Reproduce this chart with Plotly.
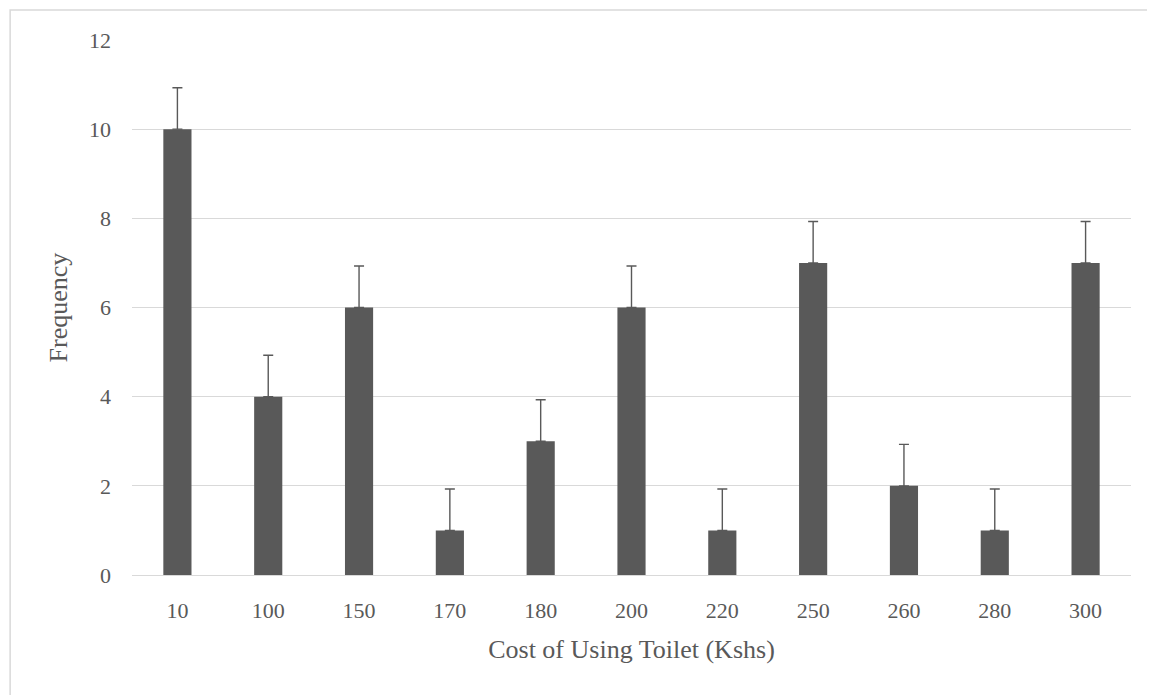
import plotly.graph_objects as go

categories = ["10", "100", "150", "170", "180", "200", "220", "250", "260", "280", "300"]
frequency = [10, 4, 6, 1, 3, 6, 1, 7, 2, 1, 7]
error_plus = [0.93] * 11
y_ticks = [0, 2, 4, 6, 8, 10, 12]

font_family = "Liberation Serif"
text_color = "#595959"

fig = go.Figure(
    go.Bar(
        x=categories,
        y=frequency,
        marker=dict(color="#595959", line=dict(width=0)),
        error_y=dict(type="data", symmetric=False, array=error_plus, arrayminus=[0] * 11,
                     color="#595959", thickness=1.4, width=5),
        width=0.31,
    )
)

fig.update_layout(
    width=1147,
    height=687,
    paper_bgcolor="white",
    plot_bgcolor="white",
    margin=dict(l=124, r=24, t=32, b=120),
    showlegend=False,
    font=dict(family=font_family, color=text_color, size=22),
    shapes=[dict(type="rect", xref="paper", yref="paper",
                 x0=-0.122, x1=1.021, y0=-0.35, y1=1.056,
                 line=dict(color="#d9d9d9", width=1.5))],
)
fig.update_xaxes(
    type="category",
    showgrid=False,
    showline=True,
    linecolor="#d9d9d9",
    linewidth=1.3,
    ticks="",
    ticklabelstandoff=15,
    tickfont=dict(size=22, color=text_color),
    title=dict(text="Cost of Using Toilet (Kshs)", font=dict(size=26, color=text_color), standoff=18),
)
fig.update_yaxes(
    range=[0, 12],
    tickvals=y_ticks,
    showgrid=True,
    gridcolor="#d9d9d9",
    gridwidth=1.2,
    zeroline=False,
    ticks="",
    ticklabelstandoff=20,
    tickfont=dict(size=22, color=text_color),
    title=dict(text="Frequency", font=dict(size=26, color=text_color), standoff=13),
)

fig.write_html("out.html")
